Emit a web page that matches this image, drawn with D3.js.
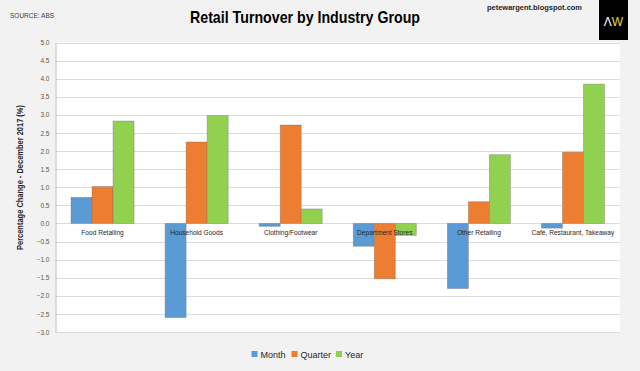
<!DOCTYPE html>
<html><head><meta charset="utf-8">
<script src="https://cdn.jsdelivr.net/npm/d3@7"></script>
<style>
body{margin:0;background:#f2f2f2;}
svg{display:block;font-family:"Liberation Sans",Arial,sans-serif;}
</style></head>
<body><svg id="c" width="640" height="371"></svg>
<script>
const categories = ["Food Retailing","Household Goods","Clothing/Footwear","Department Stores","Other Retailing","Café, Restaurant, Takeaway"];
const seriesNames = ["Month","Quarter","Year"];
const month = [0.72, -2.60, -0.08, -0.63, -1.80, -0.13];
const quarter = [1.02, 2.25, 2.72, -1.53, 0.60, 1.97];
const year = [2.83, 2.98, 0.40, -0.33, 1.90, 3.85];
const yTicks = [5.0,4.5,4.0,3.5,3.0,2.5,2.0,1.5,1.0,0.5,0.0,-0.5,-1.0,-1.5,-2.0,-2.5,-3.0];
const colors = ["#5b9bd5","#ed7d31","#92d050"];
const seriesValues = [month, quarter, year];

const svg = d3.select("#c");
svg.append("rect").attr("width",640).attr("height",371).attr("fill","#f2f2f2");

const L=55.5, R=620, T=42.5, B=332;
const y = d3.scaleLinear().domain([-3,5]).range([B,T]);
const x0 = d3.scaleBand().domain(categories).range([L,R]).paddingInner(0.33).paddingOuter(0.165);
const x1 = d3.scaleBand().domain(seriesNames).range([0,x0.bandwidth()]);

svg.append("rect").attr("x",L).attr("y",T).attr("width",R-L).attr("height",B-T).attr("fill","#ffffff");

svg.append("g").selectAll("line").data(yTicks).join("line")
  .attr("x1",L).attr("x2",R).attr("y1",d=>Math.round(y(d))+0.5).attr("y2",d=>Math.round(y(d))+0.5)
  .attr("stroke","#dcdcdc").attr("stroke-width",1);

const yAxis = d3.axisLeft(y).tickValues(yTicks).tickFormat(d3.format(".1f")).tickSize(0).tickPadding(6);
const gy = svg.append("g").attr("transform",`translate(${L},0)`).call(yAxis);
gy.select(".domain").attr("stroke","#bfbfbf");
gy.selectAll("text").attr("font-size",6.5).attr("fill","#595959").attr("font-family","Liberation Sans, Arial, sans-serif");

const g = svg.append("g");
categories.forEach((c,i)=>{
  seriesNames.forEach((s,j)=>{
    const v = seriesValues[j][i];
    g.append("rect")
      .attr("x",x0(c)+x1(s)).attr("width",x1.bandwidth())
      .attr("y",y(Math.max(0,v))).attr("height",Math.abs(y(v)-y(0)))
      .attr("fill",colors[j]).attr("stroke","rgba(110,110,110,0.45)").attr("stroke-width",0.8);
  });
});

svg.append("g").selectAll("text").data(categories).join("text")
  .attr("x",d=>x0(d)+x0.bandwidth()/2).attr("y",y(0)+12)
  .attr("text-anchor","middle").attr("font-size",6.6).attr("fill","#262626").text(d=>d);

svg.append("text").attr("x",305).attr("y",23).attr("text-anchor","middle")
  .attr("font-family","Liberation Sans Narrow, Arial Narrow, Liberation Sans, sans-serif")
  .attr("font-size",17).attr("font-weight","bold").attr("fill","#000")
  .attr("textLength",230).attr("lengthAdjust","spacingAndGlyphs")
  .text("Retail Turnover by Industry Group");

svg.append("text").attr("x",10).attr("y",18).attr("font-size",6.5).attr("fill","#404040").text("SOURCE: ABS");
svg.append("text").attr("x",487).attr("y",10).attr("font-size",8).attr("font-weight","bold").attr("fill","#262626")
  .attr("textLength",95).attr("lengthAdjust","spacingAndGlyphs").text("petewargent.blogspot.com");

svg.append("rect").attr("x",599).attr("y",0).attr("width",29).attr("height",40).attr("fill","#000");
const lt = svg.append("text").attr("x",613.5).attr("y",26).attr("text-anchor","middle").attr("font-size",12);
lt.append("tspan").attr("fill","#ffffff").text("Λ");
lt.append("tspan").attr("fill","#e8d83a").text("W");

svg.append("text").attr("transform","translate(23,177.5) rotate(-90)").attr("text-anchor","middle")
  .attr("font-size",8.5).attr("font-weight","bold").attr("fill","#262626")
  .attr("textLength",145).attr("lengthAdjust","spacingAndGlyphs")
  .text("Percentage Change - December 2017 (%)");

const legX = [251.5, 291.5, 336];
seriesNames.forEach((s,j)=>{
  svg.append("rect").attr("x",legX[j]).attr("y",351).attr("width",6).attr("height",6).attr("fill",colors[j]);
  svg.append("text").attr("x",legX[j]+9).attr("y",357.5).attr("font-size",9).attr("fill","#262626").text(s);
});
</script></body></html>
